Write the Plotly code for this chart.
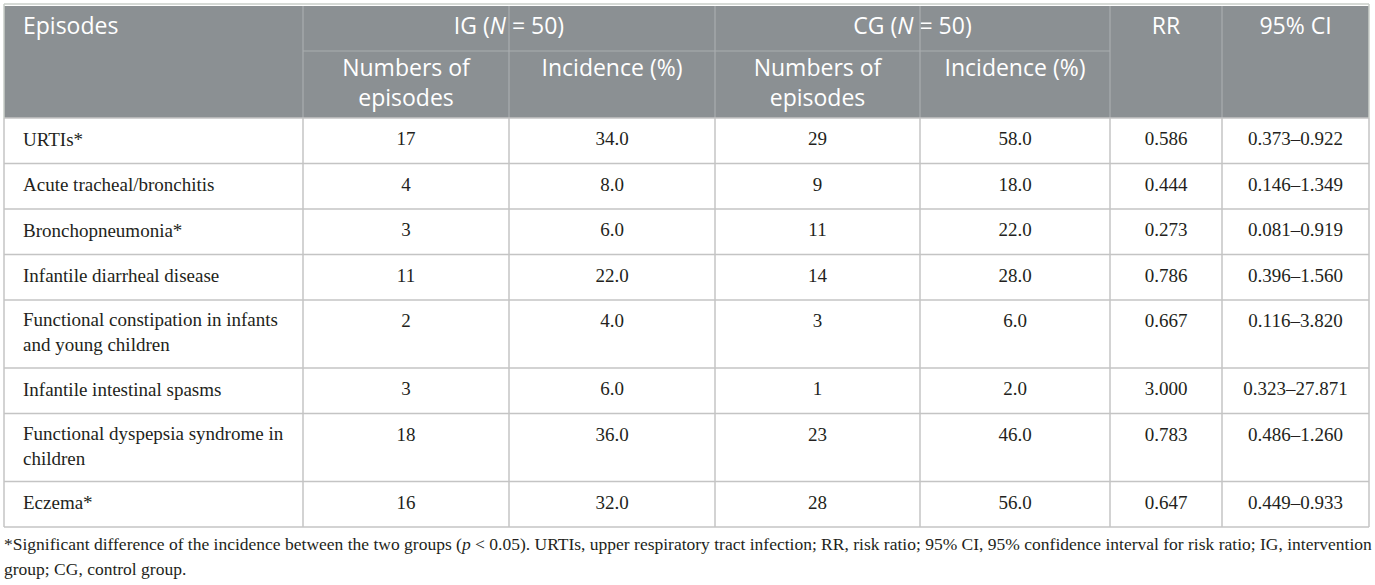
import plotly.graph_objects as go

# table content
episodes = [
    "URTIs*",
    "Acute tracheal/bronchitis",
    "Bronchopneumonia*",
    "Infantile diarrheal disease",
    "Functional constipation in infants<br>and young children",
    "Infantile intestinal spasms",
    "Functional dyspepsia syndrome in<br>children",
    "Eczema*",
]
ig_numbers = [17, 4, 3, 11, 2, 3, 18, 16]
ig_incidence = ["34.0", "8.0", "6.0", "22.0", "4.0", "6.0", "36.0", "32.0"]
cg_numbers = [29, 9, 11, 14, 3, 1, 23, 28]
cg_incidence = ["58.0", "18.0", "22.0", "28.0", "6.0", "2.0", "46.0", "56.0"]
rr = ["0.586", "0.444", "0.273", "0.786", "0.667", "3.000", "0.783", "0.647"]
ci = ["0.373–0.922", "0.146–1.349", "0.081–0.919", "0.396–1.560",
      "0.116–3.820", "0.323–27.871", "0.486–1.260", "0.449–0.933"]

group_labels = ["IG (<i>N</i> = 50)", "CG (<i>N</i> = 50)"]
sub_labels = ["Numbers of<br>episodes", "Incidence (%)"]
top_labels = ["Episodes", "RR", "95% CI"]
footnote = [
    "*Significant difference of the incidence between the two groups (<i>p</i> < 0.05). "
    "URTIs, upper respiratory tract infection; RR, risk ratio; 95% CI, 95% confidence interval for risk ratio; IG, intervention",
    "group; CG, control group.",
]

# layout geometry (pixels)
W, H = 1375, 585
cols = [4, 303, 509, 715, 920, 1110, 1222, 1369]
head_top, head_mid, head_bot = 6, 51, 118
line_gap = 25
header_bg = "#8b9093"
grid = "#c4c4c4"
head_grid = "#a9adaf"
serif = "Liberation Serif"
sans = "Open Sans"
body_size = 19
head_size = 23

# row boundaries from number of text lines
tops = [head_bot]
for e in episodes:
    n = e.count("<br>") + 1
    tops.append(tops[-1] + 45.5 + 22.5 * (n - 1))

fig = go.Figure()
shapes = []
shapes.append(dict(type="rect", x0=cols[0], x1=cols[-1], y0=head_top, y1=head_bot,
                   fillcolor=header_bg, line_width=0, layer="below"))
# header separators
for x in cols[1:-1]:
    shapes.append(dict(type="line", x0=x, x1=x, y0=head_top, y1=head_bot,
                       line=dict(color=head_grid, width=1.2)))
shapes.append(dict(type="line", x0=cols[1], x1=cols[5], y0=head_mid, y1=head_mid,
                   line=dict(color=head_grid, width=1.2)))
# body grid
for y in tops:
    shapes.append(dict(type="line", x0=cols[0], x1=cols[-1], y0=y, y1=y,
                       line=dict(color=grid, width=1.5)))
for x in cols:
    shapes.append(dict(type="line", x0=x, x1=x, y0=head_bot, y1=tops[-1],
                       line=dict(color=grid, width=1.5)))
shapes.append(dict(type="line", x0=cols[0], x1=cols[-1], y0=head_top - 2, y1=head_top - 2,
                   line=dict(color="#c9cec9", width=1.5)))
for x in (cols[0], cols[-1]):
    shapes.append(dict(type="line", x0=x, x1=x, y0=head_top - 2, y1=head_bot,
                       line=dict(color="#c9cec9", width=1.5)))

# episode names: each line placed separately
ex, ey, et = [], [], []
for i, e in enumerate(episodes):
    parts = e.split("<br>")
    mid = (tops[i] + tops[i + 1]) / 2
    start = mid - line_gap * (len(parts) - 1) / 2
    for k, p in enumerate(parts):
        ex.append(cols[0] + 19)
        ey.append(start + k * line_gap)
        et.append(p)
fig.add_trace(go.Scatter(x=ex, y=ey, text=et, mode="text", textposition="middle right",
                         textfont=dict(family=serif, size=body_size, color="#231f20"),
                         hoverinfo="skip"))

# numeric columns, top-aligned on first line
value_cols = [ig_numbers, ig_incidence, cg_numbers, cg_incidence, rr, ci]
nx, ny, nt = [], [], []
for c, vals in enumerate(value_cols):
    cx = (cols[c + 1] + cols[c + 2]) / 2
    for i, v in enumerate(vals):
        nx.append(cx)
        ny.append(tops[i] + 22.5)
        nt.append(str(v))
fig.add_trace(go.Scatter(x=nx, y=ny, text=nt, mode="text", textposition="middle center",
                         textfont=dict(family=serif, size=body_size, color="#231f20"),
                         hoverinfo="skip"))

# header texts
hx, hy, ht, hp = [], [], [], []
hx.append(cols[0] + 19); hy.append(28); ht.append(top_labels[0]); hp.append("middle right")
for g, lab in enumerate(group_labels):
    hx.append((cols[1 + 2 * g] + cols[3 + 2 * g]) / 2); hy.append(28); ht.append(lab); hp.append("middle center")
hx.append((cols[5] + cols[6]) / 2); hy.append(28); ht.append(top_labels[1]); hp.append("middle center")
hx.append((cols[6] + cols[7]) / 2); hy.append(28); ht.append(top_labels[2]); hp.append("middle center")
fig.add_trace(go.Scatter(x=hx, y=hy, text=ht, mode="text", textposition=hp,
                         textfont=dict(family=sans, size=head_size, color="white"),
                         hoverinfo="skip"))

# sub-header texts, top-aligned below the group line
sx, sy, st = [], [], []
for g in range(2):
    for s, lab in enumerate(sub_labels):
        sx.append((cols[1 + 2 * g + s] + cols[2 + 2 * g + s]) / 2)
        sy.append(59)
        st.append(lab)
fig.add_trace(go.Scatter(x=sx, y=sy, text=st, mode="text", textposition="bottom center",
                         textfont=dict(family=sans, size=head_size, color="white"),
                         hoverinfo="skip"))

# footnote
fig.add_trace(go.Scatter(x=[cols[0], cols[0]], y=[546, 571], text=footnote, mode="text",
                         textposition="middle right",
                         textfont=dict(family=serif, size=17.5, color="#231f20"),
                         hoverinfo="skip"))

fig.update_layout(
    width=W, height=H, margin=dict(l=0, r=0, t=0, b=0),
    paper_bgcolor="white", plot_bgcolor="white", showlegend=False, shapes=shapes,
)
fig.update_xaxes(range=[0, W], visible=False, fixedrange=True)
fig.update_yaxes(range=[H, 0], visible=False, fixedrange=True)
fig.write_html("out.html", config={"displayModeBar": False},
               post_script="document.body.style.margin='0';")
